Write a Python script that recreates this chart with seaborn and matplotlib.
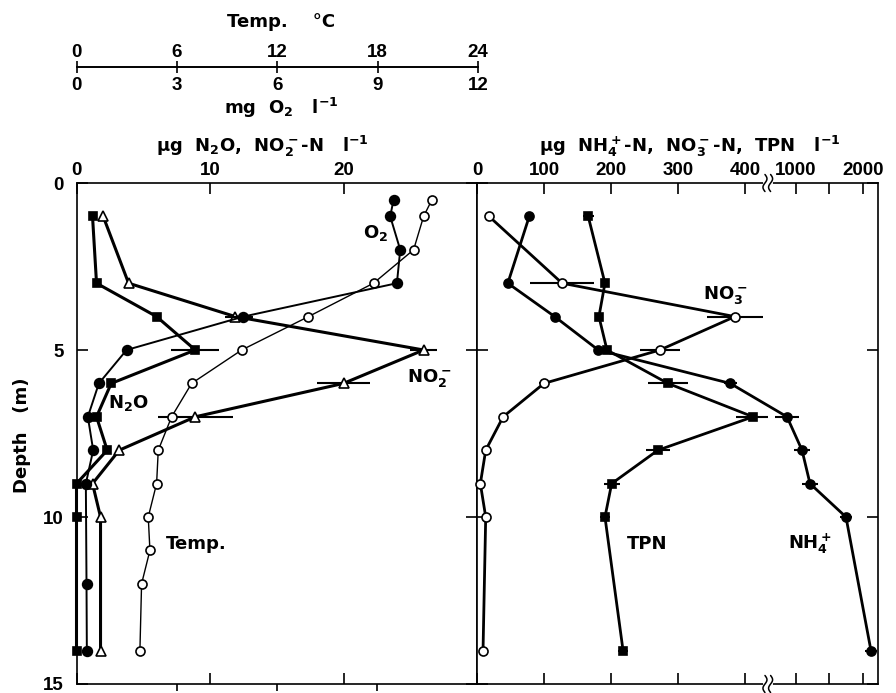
import numpy as np
import matplotlib
matplotlib.use("Agg")
import matplotlib.pyplot as plt
import seaborn as sns

# left panel: N2O, NO2- (ug/l), O2 (mg/l), temperature (deg C) vs depth (m)
n2o_depth = [1, 3, 4, 5, 6, 7, 8, 9, 10, 14]
n2o = [1.2, 1.5, 6.0, 8.9, 2.6, 1.5, 2.3, 0.0, 0.0, 0.0]
n2o_err = [0, 0, 0, 1.8, 0, 0, 0, 0, 0, 0]

no2_depth = [1, 3, 4, 5, 6, 7, 8, 9, 10, 14]
no2 = [2.0, 3.9, 11.9, 26.0, 20.0, 8.9, 3.2, 1.2, 1.8, 1.8]
no2_err = [0, 0, 0.8, 1.0, 2.0, 2.8, 0, 0, 0, 0]

o2_depth = [0.5, 1, 2, 3, 4, 5, 6, 7, 8, 9, 12, 14]
o2 = [9.5, 9.4, 9.7, 9.6, 5.0, 1.5, 0.67, 0.34, 0.5, 0.28, 0.3, 0.31]
o2_err = [0, 0, 0, 0, 0.3, 0, 0, 0, 0, 0, 0, 0]

temp_depth = [0.5, 1, 2, 3, 4, 5, 6, 7, 8, 9, 10, 11, 12, 14]
temp = [21.3, 20.8, 20.2, 17.8, 13.9, 9.9, 6.9, 5.7, 4.9, 4.8, 4.3, 4.4, 3.9, 3.8]

# right panel: NH4+, NO3-, TPN (ug N/l) vs depth (m)
r_depth = [1, 3, 4, 5, 6, 7, 8, 9, 10, 14]
no3 = [18, 127, 385, 273, 100, 39, 13, 5, 13, 9]
no3_err = [0, 48, 42, 30, 8, 6, 0, 0, 0, 0]
tpn = [166, 191, 182, 194, 285, 412, 270, 201, 191, 218]
tpn_err = [8, 0, 0, 0, 30, 25, 18, 12, 8, 8]
nh4 = [78, 46, 116, 181, 378, 866, 1090, 1209, 1746, 2119]
nh4_err = [0, 0, 0, 0, 10, 180, 120, 120, 90, 90]

r_ticks = [0, 100, 200, 300, 400, 1000, 1500, 2000]
r_ticklabels = ["0", "100", "200", "300", "400", "1000", "", "2000"]

TICKFONT = 'Liberation Sans'

sns.set_style("ticks")
plt.rcParams['font.family'] = ['DejaVu Sans']
plt.rcParams['font.weight'] = 'bold'
plt.rcParams['font.size'] = 13
plt.rcParams['xtick.labelsize'] = 13.5
plt.rcParams['ytick.labelsize'] = 13.5
plt.rcParams['mathtext.fontset'] = 'dejavusans'
plt.rcParams['mathtext.default'] = 'bf'
for key in ('text.color', 'axes.labelcolor', 'xtick.color', 'ytick.color', 'axes.edgecolor'):
    plt.rcParams[key] = 'black'
plt.rcParams['axes.linewidth'] = 1.2

W, H = 896, 693


def fx(px):
    return px / W


def fy(py):
    return 1 - py / H


# broken x scale for the right panel (linear to ~434, then 1/10 above ~579)
B0, B1, EPS = 434.0, 579.0, 1e-4


def brk_fwd(v):
    v = np.asarray(v, dtype=float)
    mid = B0 + EPS * (v - B0)
    hi = B0 + EPS * (B1 - B0) + 0.1 * (v - B1)
    return np.where(v <= B0, v, np.where(v >= B1, hi, mid))


def brk_inv(f):
    f = np.asarray(f, dtype=float)
    fb = B0 + EPS * (B1 - B0)
    mid = B0 + (f - B0) / EPS
    hi = B1 + (f - fb) * 10.0
    return np.where(f <= B0, f, np.where(f >= fb, hi, mid))


def profile(ax, x, y, marker, face, lw, ms, err=None):
    sns.lineplot(x=x, y=y, ax=ax, sort=False, estimator=None, color='black',
                 linewidth=lw, marker=marker, markersize=ms,
                 markerfacecolor=face, markeredgecolor='black',
                 markeredgewidth=1.2, zorder=3, clip_on=False)
    if err is not None:
        ax.errorbar(x, y, xerr=err, fmt='none', ecolor='black',
                    elinewidth=1.5, capsize=0, zorder=2)


def break_mark(ax, xa, ya):
    t = np.linspace(-1, 1, 30)
    ax.plot([xa - 0.008, xa + 0.008], [ya, ya], transform=ax.transAxes,
            color='white', lw=3, clip_on=False, zorder=4)
    for dx in (-0.007, 0.007):
        ax.plot(xa + dx + 0.005 * np.sin(np.pi * t), ya + 0.017 * t,
                transform=ax.transAxes, color='black', lw=1.1,
                clip_on=False, zorder=5)


fig = plt.figure(figsize=(8.96, 6.93), dpi=100)
ax_l = fig.add_axes([fx(76.5), fy(684), fx(477) - fx(76.5), fy(183) - fy(684)])
ax_r = fig.add_axes([fx(477), fy(684), fx(878) - fx(477), fy(183) - fy(684)])

ax_t = ax_l.twiny()   # temperature scale 0-24
ax_o = ax_l.twiny()   # oxygen scale 0-12

profile(ax_l, n2o, n2o_depth, 's', 'black', 2.2, 6, n2o_err)
profile(ax_l, no2, no2_depth, '^', 'white', 2.2, 6.5, no2_err)
profile(ax_o, o2, o2_depth, 'o', 'black', 1.4, 7, o2_err)
profile(ax_t, temp, temp_depth, 'o', 'white', 1.0, 6.5)

ax_l.set_xlim(0, 30)
ax_t.set_xlim(0, 24)
ax_o.set_xlim(0, 12)
ax_l.set_ylim(15, 0)

for a in (ax_t, ax_o):
    for s in a.spines.values():
        s.set_visible(False)
    a.set_xlabel('')
    a.set_ylabel('')
ax_o.tick_params(axis='x', top=False, bottom=False, labeltop=False, labelbottom=False)
ax_t.xaxis.set_ticks_position('bottom')
ax_t.set_xticks([6, 12, 18])
ax_t.tick_params(axis='x', direction='out', length=5, width=1.2,
                 labelbottom=False, labeltop=False)

ax_l.set_xlabel('')
ax_l.set_ylabel('')
ax_l.set_xticks([0, 10, 20])
ax_l.xaxis.set_ticks_position('both')
ax_l.tick_params(axis='x', direction='in', length=8, width=1.2,
                 labeltop=True, labelbottom=False, pad=3, labelfontfamily=TICKFONT)
ax_l.set_yticks([0, 5, 10, 15])
ax_l.yaxis.set_ticks_position('both')
ax_l.tick_params(axis='y', direction='in', length=8, width=1.2, pad=9,
                 labelfontfamily=TICKFONT)

ax_l.text(22.4, 1.5, "O$_2$", ha='center', va='center')
ax_l.text(26.4, 5.85, "NO$_2^-$", ha='center', va='center')
ax_l.text(3.9, 6.6, "N$_2$O", ha='center', va='center')
ax_l.text(9.0, 10.8, "Temp.", ha='center', va='center')

# right panel
profile(ax_r, no3, r_depth, 'o', 'white', 2.0, 6.5, no3_err)
profile(ax_r, tpn, r_depth, 's', 'black', 2.0, 6, tpn_err)
profile(ax_r, nh4, r_depth, 'o', 'black', 2.0, 6.5, nh4_err)

ax_r.set_xscale('function', functions=(brk_fwd, brk_inv))
ax_r.set_xlim(0, 2224)
ax_r.set_ylim(15, 0)
ax_r.set_xlabel('')
ax_r.set_ylabel('')
ax_r.set_xticks(r_ticks)
ax_r.set_xticklabels(r_ticklabels)
ax_r.xaxis.set_ticks_position('both')
ax_r.tick_params(axis='x', direction='in', length=8, width=1.2,
                 labeltop=True, labelbottom=False, pad=3, labelfontfamily=TICKFONT)
ax_r.xaxis.set_minor_locator(matplotlib.ticker.NullLocator())
ax_r.set_yticks([0, 5, 10, 15])
ax_r.yaxis.set_ticks_position('both')
ax_r.tick_params(axis='y', direction='in', length=8, width=1.2,
                 labelleft=False, labelright=False)
brk_x = brk_fwd(B0) / brk_fwd(2224.0)
break_mark(ax_r, brk_x, 1.0)
break_mark(ax_r, brk_x, 0.0)

ax_r.text(370, 3.35, "NO$_3^-$", ha='center', va='center')
ax_r.text(254, 10.8, "TPN", ha='center', va='center')
ax_r.text(1209, 10.8, "NH$_4^+$", ha='center', va='center')

# separate top scale: temperature above, oxygen below
ax_top = fig.add_axes([fx(76.5), fy(67), fx(478) - fx(76.5), 0.0001])
ax_top.set_xlim(0, 24)
ax_top.set_yticks([])
for side in ('top', 'left', 'right'):
    ax_top.spines[side].set_visible(False)
ax_top.set_xticks([0, 6, 12, 18, 24])
ax_top.tick_params(axis='x', direction='inout', length=8.5, width=1.2,
                   bottom=True, top=False, labelbottom=False, labeltop=True, pad=0,
                   labelfontfamily=TICKFONT)
sec = ax_top.secondary_xaxis('bottom', functions=(lambda t: t / 2.0, lambda o: o * 2.0))
sec.set_xticks([0, 3, 6, 9, 12])
sec.tick_params(axis='x', length=0, pad=7, labelfontfamily=TICKFONT)

fig.text(fx(281), fy(22), "Temp.    \u00b0C", ha='center', va='center')
fig.text(fx(281), fy(108), "mg  O$_2$   l$^{-1}$", ha='center', va='center')
fig.text(fx(262), fy(146), "\u00b5g  N$_2$O,  NO$_2^-$-N   l$^{-1}$", ha='center', va='center')
fig.text(fx(690), fy(146), "\u00b5g  NH$_4^+$-N,  NO$_3^-$-N,  TPN   l$^{-1}$", ha='center', va='center')
fig.text(fx(22), fy(435), "Depth   (m)", rotation=90, ha='center', va='center')

fig.savefig("out.png", dpi=100)
